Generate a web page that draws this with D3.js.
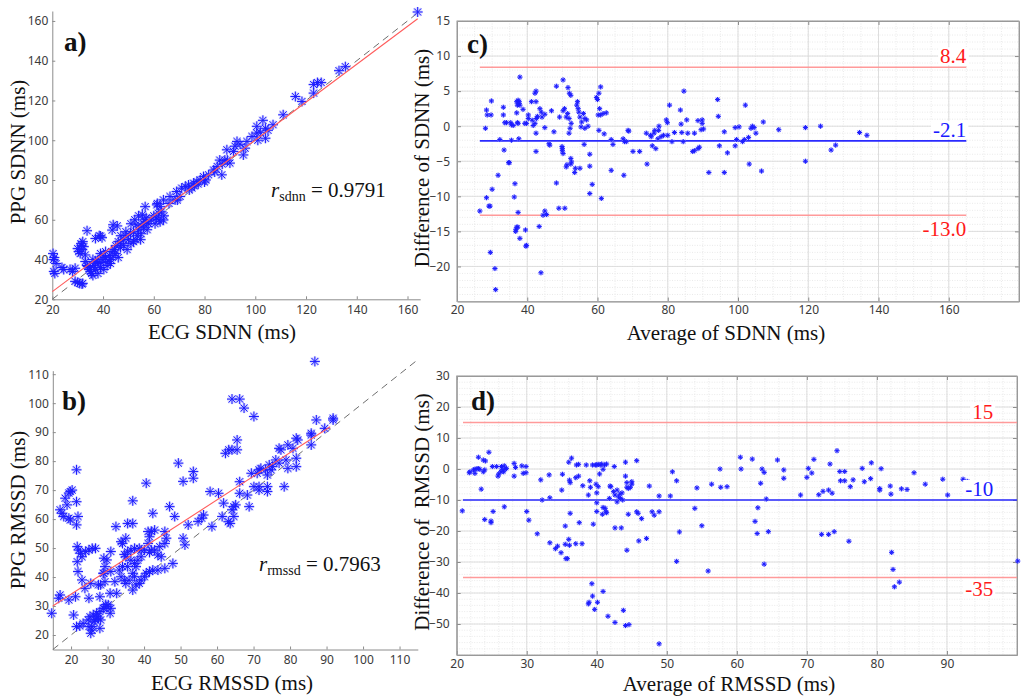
<!DOCTYPE html>
<html>
<head>
<meta charset="utf-8">
<script src="https://cdn.jsdelivr.net/npm/d3@7"></script>
<style>
body { margin: 0; background: #fff; }
svg { display: block; }
.axis .tick text { font-family: 'Noto Sans', 'Open Sans', sans-serif; font-size: 12px; fill: #3a3a3a; }
.axis .domain, .axis .tick line { stroke: #8c8c8c; }
.title { font-family: 'Liberation Serif', 'Times New Roman', serif; fill: #111; }
</style>
</head>
<body>
<svg id="chart" width="1021" height="697"></svg>
<script>
// ---- a) ECG vs PPG SDNN (ms) ----
const sdnnPairs = [
  [20.3,43],[20.8,41],[20.5,40],[21,33],[20.6,34],[21.5,38],[23.8,36],[24.5,35],[27,35],[29,35.6],[28,34],
  [30.4,44],[31,43],[31.7,45],[32.4,46.5],[31.3,48],[33,42.3],[30,45.5],[32,49],[31.5,47],[33.7,54.5],
  [37,50.6],[39,51.8],[39.6,51],[38.5,52],[43.6,54.8],[45.6,56.9],[44,57.5],
  [30.8,28],[31.7,27.7],[29,29],[30,28.5],[32,28],
  [33.7,37],[35,36],[35.5,33],[34.5,35],[36.3,37],[37.7,38],[39,36],[40.3,35],[41.6,37],[42.9,38],[36,32],[35,34],
  [38,33],[37,35],[39.5,38.5],[40,40],[41,41],[42,39],[43,40],[44,42],[45,43],[46,41],[44.5,45],[43.5,44],[42.5,42],
  [41,44],[40,42],[38,40],[37,39],[36,40],[39,43],[34,36.5],[33,39],
  [46.9,46],[48.2,47],[47,48],[49.5,45],[48,50],[50,50],[49,52],[51,48],[52,49],[50.8,53],[52,54],[53,50],[53.5,52],
  [54,55],[54.8,50],[55,53],[56,56],[56,58],[55,57],[57,59],[57.4,55],[56.5,60],[57,61],[58,58],[53,57.5],[52.5,60],
  [51,58],[49,54],[47,52],[46,49],[45,47],[56.6,66.6],[55.5,62.5],[54,62],
  [61.2,67.5],[62.5,66.6],[63.8,70],[60,62],[61,61],[62,60],[62.5,59],[63.8,59.9],[61.8,63.3],[63,64],[64,62],[60.5,58],
  [59,60],[61.4,68.2],[66,68.2],[69.3,69.9],
  [66.4,71.7],[68.4,70],[69,74.2],[70.4,71.7],[71,75.9],[72.4,76.7],[73.7,77.5],[75,76],[75.7,78.4],[77,79.2],[76,77],
  [74,75],[78.3,80],[79.6,81.7],[80,79],[81.6,82.6],[80.5,80],[77.5,78],
  [83.6,85],[85,86.8],[86,90],[86.8,82.6],[88,90],[88.8,95.2],[90,88.5],[87,88],[89,90],[84,84],[91.4,94.3],[92,97],
  [92.8,99.4],[95.3,92.6],[96,96],[96.7,99.4],[94,98],
  [98.7,101.9],[100.6,103.6],[100.6,107],[103,110],[104,106],[104,101],[102,104],[105,105],[107,107.8],[101,100],
  [111,112.8],[115.8,122],[118.4,119.5],[123,123.7],[123,128],[124.5,129],[126,129],[133,135],[135.5,137],[164,164.5]
];
const sdnnFit = { slope: 0.953, intercept: 4.8, from: 20, to: 164 };
const sdnnR = '0.9791';

// ---- b) ECG vs PPG RMSSD (ms) ----
const rmssdPairs = [
  [86.8,114.4],[64.1,101.4],[66.2,101.4],[67.4,98.3],[70.1,95.4],[87.2,94.2],[91.8,94.8],[91.8,94.2],[89.5,91.3],
  [85.8,89.6],[85.8,89],[81.7,87.9],[82.1,87.3],[79.4,85.6],[77,84.4],[77.5,83.9],[85.8,85.6],[80.8,84.4],[65.5,87.3],
  [64.1,83.9],[65.5,83.9],[62.3,82.7],[63.2,83.9],[81.7,81],[78.9,80.4],[76.1,80.4],[77,79.3],[75.2,78.1],[74.3,78.7],
  [74.8,77],[73.8,75.2],[73.3,77],[81.7,78.1],[79.4,77.5],[71.5,77],[72,77.5],[69.4,75.8],[71,75.8],[70.1,71.2],
  [71.5,71.2],[73.8,71.2],[78.4,71.2],[73.8,69.5],[71.5,70],[66.2,72.9],[66.2,68.9],[68.3,68.3],[68.8,64.3],[65.1,64.9],
  [64.6,64.3],[64.6,60.9],[64.1,63.2],[63.6,58.5],[61.8,65.5],[61.4,60.9],[63.1,59.1],
  [53.5,76.4],[53.5,74.1],[50.7,73],[49.4,79.3],[58.1,69.5],[60.4,68.9],[56.3,61.4],[55.8,60.3],[54.8,59.2],[52.1,58],
  [58.6,57.4],[50.7,53.4],[51.2,51.1],[47,64.3],[48.4,60.9],[45.7,55.7],[46.1,53.4],[45.7,51.6],[44.3,50.5],[47.9,44.7],
  [45.7,43],[43.8,42.4],[42.4,42.4],[41.5,41.9],[40.6,41.3],[40.1,40.1],[39.2,39],[38.7,37.8],[37.8,37.3],[36.9,35.5],
  [37.4,40.1],
  [42,49.3],[43.8,47.6],[44.7,47],[42.9,49.3],[41.5,48.5],[40.1,49.3],[39.2,49.3],[38.7,49.9],[37.4,49.9],[36.4,49.3],
  [35.5,48.7],[34.6,47.8],[35,47],[36.4,45.8],[37.4,44.7],[35.5,43.6],[34.1,43.6],[33.2,42.4],[33.7,40.1],[34.6,38.9],
  [35,37.8],[35.9,38.9],[36.9,41.3],[37.8,43.6],[38.3,45.8],[39.2,47],[41.1,51.6],[41.5,53.9],[41.1,55.7],[42,55.7],
  [42.9,56.2],
  [32.3,57.4],[36.9,66.3],[36.9,58.5],[35.5,58.5],[40.6,72.4],[42.4,62],[33.7,52.2],[34.1,51.6],[35,53.4],[30.9,48.8],
  [30.9,41.9],[29,46.5],[29,41.3],[28.1,37.3],[24.9,32.7],[25.4,37.8],[23.8,36.1],
  [27.5,37.3],[29.3,38.4],[32,38.4],[32.5,34.4],[30.7,34.4],[27.9,33.2],[28.8,41.3],[29.8,45.9],[29.3,43.6],
  [21.5,77],[17,63.2],[17.5,62],[18,60.9],[18.9,64.9],[18.4,67.2],[19.8,69.5],[20.3,70],[19.4,69],[19.4,60.3],
  [19.8,59.7],[21.5,66],[21.9,60.9],[21.5,58],[21.7,50.5],[22.1,49.3],[22.6,48.2],[23,47],[24,48.8],[24.9,49.3],
  [25.8,49.9],[26.7,49.9],[21.7,45.3],[21.9,41.9],[23,39],[21.2,33.2],[17,33.8],[16.6,32.7],[19.4,32.1],[14.7,27.5],
  [20.7,26.9],
  [24.7,25.2],[25.2,26.3],[26.1,26.9],[27,27.5],[27.9,28.1],[28.8,29.2],[29.8,29.8],[30.2,30.4],[30.7,27.5],[27.5,25.8],
  [26.6,25.2],[25.7,22.9],[27.9,22.3],[23.3,24],[22.4,23.1],[21.5,22.9],[25.7,21.7],[26.3,24.6],[28.1,25.2],[29,29.2],
  [30.9,29.2],[24.9,22.9],[27.2,26.3],[29.5,30.5],[25.4,20.6]
];
const rmssdFit = { slope: 0.814, intercept: 17.8, from: 15, to: 91 };
const rmssdR = '0.7963';

// ---- c) Bland-Altman SDNN: [average, difference] ----
const sdnnBA = [
  [28.1,-0.3],[28.4,2.3],[28.6,1.6],[29.7,1.6],[29.8,3.6],[26.5,-12.1],[28.4,-10.2],[29.1,-11.4],[29.4,-11.4],[30,-9],
  [31.7,-7],[29.5,-18],[30.8,-20.3],[31,-23.3],[32.2,-1.9],[33.2,2.7],[33.2,1.6],[33.6,0.5],[34.1,0.5],[33.4,-3.4],
  [34.9,-5.2],[34.7,-5.2],[35.3,0.5],[35.5,0.2],[36,0.1],[37,3.5],[37.4,3.7],[37.6,3.2],[37.2,3],[37.9,3],[37.7,3.5],
  [37.9,7],[37,1.9],[37.2,0.5],[37.4,0.4],[37.6,-1.8],[35.5,-2],[36.5,-8.2],[36.3,-10.1],[37.4,-12.3],[37,-14.4],
  [36.8,-14.7],[37.3,-14.4],[36.7,-15],[37.9,-16],[39.5,-14.8],[39.8,-17],[39.6,-17.1],
  [38.8,2.4],[39.3,0.4],[39.8,0.4],[40.3,1.1],[40.3,1.6],[41.2,3.5],[42.5,3.5],[42.2,4.7],[42.5,5],[41.4,0.85],
  [41.7,0.1],[42.2,0.4],[42.6,1.1],[42.9,1.4],[43.6,2.5],[44,2],[44.2,1.3],[45,1.7],[46.9,2.2],[45,-0.2],[42.5,-1],
  [42.5,-3.6],[43.4,-14.3],[44.5,-12.7],[45,-12.1],[45.5,-12.6],[43.9,-20.9],[46.4,-2.7],[46.2,-2.5],[47.6,-0.8],
  [48.3,5.7],[49,-11.7],[48.3,-8.1],[50.2,6.6],[50.7,-11.7],[51.1,-5.8],[51.3,-5.5],[51.6,5.5],[52,4.7],
  [49.2,1.3],[50.2,2.2],[50.6,2.5],[51.1,1.3],[51.5,1.8],[51.9,1.1],[52.5,0.4],[52.2,-0.3],[51.9,-1],
  [50,-3.2],[50,-3.5],[50.2,-3.9],[49.9,-2.9],[52.4,4.4],[52.4,-4.6],[52.6,-5.1],[52.4,-5.4],[53.5,-6.6],[53.7,-6],
  [54.1,3],[54.3,3.5],[54.5,2.5],[54.7,2],[55,1.3],[55.5,0.6],[55.3,-0.1],[56,1.8],[56.4,1.1],[56.9,0.9],[56.4,-0.3],
  [57.3,0],[55,-6],[56.2,-2.6],[57.8,-4],[57.8,-5.7],[58.5,-8.3],[57.8,-9.6],[61.1,-10.3],
  [59.7,4.1],[60,3.8],[60.4,4.7],[60.9,5.6],[60.2,1.6],[60.9,1.6],[60.6,2.5],[61.6,1.8],[62.5,1.9],[60.4,-0.6],
  [61.9,-1.1],[63.9,-1.9],[64.4,-2.6],[63.9,-6.3],[67.3,-1.8],[67.7,-2.2],[67.5,-7],[68.7,-0.6],[68.9,-0.7],[68.2,-2.2],
  [70.1,-3.6],[72,-3.6],[73.9,-1],[74.1,-5.4],
  [75.1,-1.3],[75.3,-1.5],[76.1,-1],[76.3,-0.6],[75.6,-2.8],[76.6,-3.2],[77.2,-1.8],[77.4,-0.6],[77.5,0],[78.1,-1.5],
  [78.8,-1.3],[79.6,0.9],[79.9,0.5],[80,-1.3],[80.5,3],[81.2,-2.2],[81.9,-0.9],[83.6,2.3],[83.8,0.3],[84,-0.9],
  [84.6,5],[84.4,-2.2],[85.4,0.9],[85.7,-1],[87.1,-3.6],
  [87.6,-1],[87.6,-3.5],[88.6,-3.2],[89,-3],[88.6,0.8],[89.8,0.9],[89.8,0.4],[89.5,-0.5],[90.2,-0.4],[91.7,-6.6],
  [94.2,3.8],[94.4,1.4],[94.7,-2.8],[96.1,-0.8],[96.1,-6.6],[97,-3.8],[99.2,-0.2],[100.3,-0.1],[99.2,-2.8],[99.6,-1.9],
  [101.3,-2.2],[101.8,-1.9],[102.1,3],[103,-1.6],[103.2,-5.4],[103.7,-0.3],[104.1,0],[104.6,-0.2],[105.1,-1],
  [106.7,-6.4],[107.2,0.6],[111.6,-0.5],[119.2,-0.2],[119.2,-5],[123.5,0],[126.5,-3.4],[127.8,-2.7],[134.6,-0.9],
  [136.7,-1.3]
];
const sdnnLimits = [8.4, -2.1, -12.7];
const sdnnLimitLabels = ['8.4', '-2.1', '-13.0'];

// ---- d) Bland-Altman RMSSD: [average, difference] ----
const rmssdBA = [
  [20.8,-13.5],[21.8,-1.2],[21.9,-0.9],[22.4,-0.3],[22.6,-0.1],[22.9,0.1],[23.1,0.1],[23.3,-0.1],[23.8,-0.9],[24,-0.3],
  [22.6,-1.4],[23.1,3.8],[23.8,2.9],[24.1,2.6],[24.6,5.4],[23.5,-6.5],[24,-16.3],[24.9,-17.3],[24.9,-16.8],[25.2,-13.7],
  [25.1,0.8],[25.7,0.8],[25.9,-2.3],[26,-1.6],[26.4,0.8],[26.5,-0.1],[26.7,-0.9],[26.9,-0.1],[27.1,0.2],[26.8,1],
  [26.3,-0.9],[26.8,-12.2],[28.2,1.8],[28.4,0.5],[28.2,-2.3],[29.3,1],[29.5,-1.4],[29.9,0.8],[29.9,-1.2],[30,-13.7],
  [30.3,-16.5],[31.5,-20.9],[32,-3.5],[32.2,-10],[33.2,-1.9],[33.3,-9.3],[33.3,-23.8],[34.1,-25.7],[34.4,-24.9],
  [34.9,-27],[35.5,-24.3],[36,-22.7],[36.1,-24.6],[35.6,-28.9],[35.8,-28.9],[35,-6.8],[35.1,-1.7],[36,2.2],[36.4,3.5],
  [36.1,-3.6],[36.2,-4.4],[35.5,-18.4],[36.2,-14.3],[37,-2.8],[37.4,-2.3],[37.1,1.3],[37.4,1.5],[37.5,-17.3],[37,-24.1],
  [37.9,-24.1],[38,-5.4],[38.5,1.3],[38.8,-8.4],[39,-3.8],[39.1,-5.9],[39.4,1.3],[39.5,-17.8],[39.8,1.3],[40,1.3],
  [40.2,1.5],[40.5,1.3],[40.7,1.6],[39.9,-4.9],[40.2,-5.7],[40,-7.7],[40,-10.9],[40,-13.7],[40.4,-1.6],[41.1,1.3],
  [41.4,1.6],[40.9,-0.1],[40.9,-12.4],[41.2,-12.7],[41.3,-13.8],[41.4,-14.1],[40.8,-14.6],[41.9,-5.5],[42,-5.7],
  [41.8,-9.5],[42.4,-7.3],[42.6,-8.4],[42.9,-6.8],[42.5,0.8],[43.1,-9],[43.3,-8.1],[43.4,-9.5],[43.6,-7.7],[43.7,-10],
  [42.9,-10.6],[42.6,-19],[43.5,-19],[44.1,-2.3],[44.1,2.2],[44.3,-4.4],[44.3,-5.9],[44.5,-6.3],[44.8,-5.9],[45,-4.1],
  [45,-4.9],[44.3,-26.2],[44.5,-14.6],[45.9,-14.3],[45.7,-13.8],[46.4,-16],[46,-23.2],[45.7,2.7],[47.1,-22.4],
  [47.5,-5.5],[47.9,-13.8],[48.2,-14.9],[48.9,-8.7],[48.9,-13.8],[50.5,-8.7],[50.8,-0.9],[51.4,-3.8],[51.4,-29.8],
  [51.8,-20.3],[54,-12.7],
  [39.3,-37],[39.4,-41],[38.8,-43.5],[38.9,-43],[39.7,-45.3],[40.1,-43],[40.9,-39.5],[41.6,-47.5],[42.6,-49.5],
  [43.8,-45.6],[44.1,-50.5],[44.6,-50.2],[48.9,-56.4],
  [54.3,-6.1],[55,-18.3],[55.9,-32.9],[56.4,-4.9],[57.6,0],[57.7,-5.9],[58.6,-5.7],[60.5,3.8],[60.6,0],[62.2,3.2],
  [62.6,-16.9],[62.9,-20.8],[63,-12.5],[63.4,-4.6],[63.6,0],[63.9,-1.1],[63.9,-30.7],[64.2,-9.7],[64.5,-20.2],
  [65.8,2.9],[66.7,-0.3],[66.7,-3],[69.1,-8.4],[70,-2.7],[70.2,0.2],[70.7,-1.3],[71,3.1],[71.7,-8.3],[72.3,-7.2],
  [73.1,-6.8],[73.6,-7.8],[72.1,-21.1],[73.1,-21.1],[73.9,-20.2],[73.3,1.6],[74.3,5.9],[74.7,-0.8],[74.8,-3.8],
  [75.4,-0.8],[75.4,-3.8],[76.2,-5.7],[76.6,-3.5],[76,-23.3],[77.9,0.2],[78.2,-4.1],[79.2,2],[79.1,-3.1],[80.4,-6.3],
  [80.4,-6.8],[80.6,0.1],[81.9,-5.5],[82,-8.1],[82.1,-26.9],[82.3,-32.4],[82.5,-38],[83.2,-36.5],[83.5,-6.4],
  [84.3,-6.6],[85.3,-1.2],[86.9,-4.9],[89.4,-3.3],[90.1,-8.4],[92.3,-3.3],[92.9,-4],[100.1,-29.7]
];
const rmssdLimits = [15, -10, -35];
const rmssdLimitLabels = ['15', '-10', '-35'];

// tick values
const ticksA = [20, 40, 60, 80, 100, 120, 140, 160];
const ticksBx = [20, 30, 40, 50, 60, 70, 80, 90, 100, 110];
const ticksBy = [20, 30, 40, 50, 60, 70, 80, 90, 100, 110];
const ticksCx = [20, 40, 60, 80, 100, 120, 140, 160];
const ticksCy = [-20, -15, -10, -5, 0, 5, 10, 15];
const ticksDx = [20, 30, 40, 50, 60, 70, 80, 90];
const ticksDy = [-50, -40, -30, -20, -10, 0, 10, 20, 30];

const svg = d3.select('#chart');

// MATLAB-like '*' marker: 8 arms
const asterisk = {
    draw(ctx, size) {
        const r = Math.sqrt(size) / 2;
        const d = r * Math.SQRT1_2;
        ctx.moveTo(-r, 0); ctx.lineTo(r, 0);
        ctx.moveTo(0, -r); ctx.lineTo(0, r);
        ctx.moveTo(-d, -d); ctx.lineTo(d, d);
        ctx.moveTo(-d, d); ctx.lineTo(d, -d);
    }
};

function drawPoints(g, data, x, y, size, halo) {
    const path = d3.symbol(asterisk, size)();
    g.append('g').selectAll('path').data(data).join('path')
        .attr('transform', d => `translate(${x(d[0])},${y(d[1])})`)
        .attr('d', path)
        .attr('fill', 'none')
        .attr('stroke', '#a8a8ff')
        .attr('stroke-width', halo)
        .attr('stroke-opacity', 0.55);
    g.append('g').selectAll('path').data(data).join('path')
        .attr('transform', d => `translate(${x(d[0])},${y(d[1])})`)
        .attr('d', path)
        .attr('fill', 'none')
        .attr('stroke', '#1c1cff')
        .attr('stroke-width', 1);
}

function title(text, x, y, rotate) {
    const t = svg.append('text')
        .attr('class', 'title')
        .attr('font-size', 21)
        .attr('text-anchor', 'middle')
        .style('white-space', 'pre')
        .text(text);
    if (rotate) t.attr('transform', `translate(${x},${y}) rotate(-90)`);
    else t.attr('x', x).attr('y', y);
}

function panelTag(text, x, y) {
    svg.append('text')
        .attr('class', 'title')
        .attr('x', x).attr('y', y)
        .attr('font-size', 27)
        .attr('font-weight', 700)
        .attr('fill', '#000')
        .text(text);
}

function scatterPanel(cfg) {
    const x = d3.scaleLinear().domain(cfg.xDomain).range(cfg.xRange);
    const y = d3.scaleLinear().domain(cfg.yDomain).range(cfg.yRange);
    const g = svg.append('g');

    g.append('g').attr('class', 'axis')
        .attr('transform', `translate(0,${cfg.yRange[0]})`)
        .call(d3.axisBottom(x).tickValues(cfg.xTicks).tickSizeInner(-3).tickSizeOuter(0).tickPadding(6));
    g.append('g').attr('class', 'axis')
        .attr('transform', `translate(${cfg.xRange[0]},0)`)
        .call(d3.axisLeft(y).tickValues(cfg.yTicks).tickSizeInner(-3).tickSizeOuter(0).tickPadding(4));

    // identity line
    const lo = Math.max(cfg.xDomain[0], cfg.yDomain[0]);
    g.append('line')
        .attr('x1', x(lo)).attr('y1', y(lo))
        .attr('x2', x(cfg.identityTo)).attr('y2', y(cfg.identityTo))
        .attr('stroke', '#6e6e6e').attr('stroke-width', 1)
        .attr('stroke-dasharray', '7,5');

    drawPoints(g, cfg.data, x, y, 100, 2.6);

    // regression line
    const f = cfg.fit;
    g.append('line')
        .attr('x1', x(f.from)).attr('y1', y(f.slope * f.from + f.intercept))
        .attr('x2', x(f.to)).attr('y2', y(f.slope * f.to + f.intercept))
        .attr('stroke', '#ff5c5c').attr('stroke-width', 1.1);

    const r = svg.append('text').attr('class', 'title')
        .attr('x', cfg.rPos[0]).attr('y', cfg.rPos[1])
        .attr('font-size', 21);
    r.append('tspan').attr('font-style', 'italic').text('r');
    r.append('tspan').attr('font-size', 14).attr('dy', 4).text(cfg.rSub);
    r.append('tspan').attr('dy', -4).text(` = ${cfg.r}`);
}

function baPanel(cfg) {
    const x = d3.scaleLinear().domain(cfg.xDomain).range(cfg.xRange);
    const y = d3.scaleLinear().domain(cfg.yDomain).range(cfg.yRange);
    const g = svg.append('g');
    const [x0, x1] = cfg.xRange;
    const [y0, y1] = cfg.yRange;
    const w = x1 - x0, h = y0 - y1;

    // minor grid
    g.append('g').selectAll('line').data(x.ticks(cfg.minorX)).join('line')
        .attr('x1', d => x(d)).attr('x2', d => x(d)).attr('y1', y1).attr('y2', y0)
        .attr('stroke', '#e4e4e4').attr('stroke-width', 0.8).attr('stroke-dasharray', '1,1.5');
    g.append('g').selectAll('line').data(y.ticks(cfg.minorY)).join('line')
        .attr('y1', d => y(d)).attr('y2', d => y(d)).attr('x1', x0).attr('x2', x1)
        .attr('stroke', '#e4e4e4').attr('stroke-width', 0.8).attr('stroke-dasharray', '1,1.5');
    // major grid
    g.append('g').selectAll('line').data(cfg.xTicks).join('line')
        .attr('x1', d => x(d)).attr('x2', d => x(d)).attr('y1', y1).attr('y2', y0)
        .attr('stroke', '#dadada').attr('stroke-width', 0.9);
    g.append('g').selectAll('line').data(cfg.yTicks).join('line')
        .attr('y1', d => y(d)).attr('y2', d => y(d)).attr('x1', x0).attr('x2', x1)
        .attr('stroke', '#dadada').attr('stroke-width', 0.9);

    g.append('g').attr('class', 'axis')
        .attr('transform', `translate(0,${y0})`)
        .call(d3.axisBottom(x).tickValues(cfg.xTicks).tickSizeInner(-4).tickSizeOuter(0).tickPadding(4));
    g.append('g').attr('class', 'axis')
        .attr('transform', `translate(${x0},0)`)
        .call(d3.axisLeft(y).tickValues(cfg.yTicks).tickSizeInner(-4).tickSizeOuter(0).tickPadding(7));
    g.append('g').attr('class', 'axis')
        .attr('transform', `translate(0,${y1})`)
        .call(d3.axisTop(x).tickValues(cfg.xTicks).tickSizeInner(-4).tickSizeOuter(0).tickFormat(''));
    g.append('g').attr('class', 'axis')
        .attr('transform', `translate(${x1},0)`)
        .call(d3.axisRight(y).tickValues(cfg.yTicks).tickSizeInner(-4).tickSizeOuter(0).tickFormat(''));

    g.append('rect')
        .attr('x', x0).attr('y', y1).attr('width', w).attr('height', h)
        .attr('fill', 'none').attr('stroke', '#a6a6a6').attr('stroke-width', 1);

    // limits of agreement and mean difference
    const colors = ['#ff9a9a', '#2a2aff', '#ff9a9a'];
    const textColors = ['#ff1a1a', '#1a1aff', '#ff1a1a'];
    cfg.limits.forEach((v, i) => {
        g.append('line')
            .attr('x1', x(cfg.lineFrom)).attr('x2', x(cfg.lineTo))
            .attr('y1', y(v)).attr('y2', y(v))
            .attr('stroke', colors[i]).attr('stroke-width', i === 1 ? 1.6 : 1.4);
    });

    drawPoints(g, cfg.data, x, y, 26, 2.2);

    cfg.limits.forEach((v, i) => {
        const ty = y(v) + cfg.labelDy[i];
        const t = g.append('text').attr('class', 'title')
            .attr('x', x(cfg.labelX)).attr('y', ty)
            .attr('text-anchor', 'end')
            .attr('font-size', 21)
            .style('fill', textColors[i])
            .text(cfg.labels[i]);
        const bb = t.node().getBBox();
        g.insert('rect', () => t.node())
            .attr('x', bb.x - 2).attr('y', bb.y + 3)
            .attr('width', bb.width + 4).attr('height', bb.height - 6)
            .attr('fill', '#fff');
    });
}

scatterPanel({
    data: sdnnPairs, fit: sdnnFit, r: sdnnR, rSub: 'sdnn',
    xDomain: [20, 165], xRange: [52.3, 420.2],
    yDomain: [20, 165], yRange: [299.3, 11],
    xTicks: ticksA, yTicks: ticksA, identityTo: 165,
    rPos: [271, 197]
});

scatterPanel({
    data: rmssdPairs, fit: rmssdFit, r: rmssdR, rSub: 'rmssd',
    xDomain: [15, 115], xRange: [52.8, 417.8],
    yDomain: [15, 111.2], yRange: [649.5, 370.7],
    xTicks: ticksBx, yTicks: ticksBy, identityTo: 115,
    rPos: [259, 571]
});

baPanel({
    data: sdnnBA, limits: sdnnLimits, labels: sdnnLimitLabels,
    xDomain: [20, 180], xRange: [457, 1019],
    yDomain: [-25, 15], yRange: [301.5, 21],
    xTicks: ticksCx, yTicks: ticksCy, minorX: 32, minorY: 40,
    lineFrom: 26.5, lineTo: 165, labelX: 165, labelDy: [-4, -4, 21]
});

baPanel({
    data: rmssdBA, limits: rmssdLimits, labels: rmssdLimitLabels,
    xDomain: [20, 100], xRange: [456.7, 1017],
    yDomain: [-60, 30], yRange: [655, 376],
    xTicks: ticksDx, yTicks: ticksDy, minorX: 40, minorY: 45,
    lineFrom: 20.9, lineTo: 100, labelX: 96.6, labelDy: [-4, -4, 18]
});

panelTag('a)', 64, 51);
panelTag('b)', 62, 410);
panelTag('c)', 467, 53);
panelTag('d)', 471, 410);

title('PPG SDNN (ms)', 25, 152, true);
title('ECG SDNN (ms)', 222, 339);
title('Difference of SDNN (ms)', 429, 158, true);
title('Average of SDNN (ms)', 726, 340);
title('PPG RMSSD (ms)', 25, 510, true);
title('ECG RMSSD (ms)', 232, 690);
title('Difference of  RMSSD (ms)', 429, 512, true);
title('Average of RMSSD (ms)', 729, 691);
</script>
</body>
</html>
